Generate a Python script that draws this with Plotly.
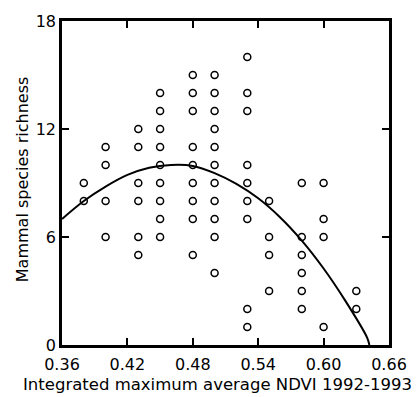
import plotly.graph_objects as go

# Scatter data: NDVI (x) and mammal species richness (y)
ndvi = [
    0.38, 0.38,
    0.40, 0.40, 0.40, 0.40,
    0.43, 0.43, 0.43, 0.43, 0.43, 0.43,
    0.45, 0.45, 0.45, 0.45, 0.45, 0.45, 0.45, 0.45, 0.45,
    0.48, 0.48, 0.48, 0.48, 0.48, 0.48, 0.48, 0.48, 0.48,
    0.50, 0.50, 0.50, 0.50, 0.50, 0.50, 0.50, 0.50, 0.50, 0.50, 0.50,
    0.53, 0.53, 0.53, 0.53, 0.53, 0.53, 0.53, 0.53, 0.53,
    0.55, 0.55, 0.55, 0.55,
    0.58, 0.58, 0.58, 0.58, 0.58, 0.58,
    0.60, 0.60, 0.60, 0.60,
    0.63, 0.63,
]
richness = [
    9, 8,
    11, 10, 8, 6,
    12, 11, 9, 8, 6, 5,
    14, 13, 12, 11, 10, 9, 8, 7, 6,
    15, 14, 13, 11, 10, 9, 8, 7, 5,
    15, 14, 13, 12, 11, 10, 9, 8, 7, 6, 4,
    16, 14, 13, 10, 9, 8, 7, 2, 1,
    8, 6, 5, 3,
    9, 6, 5, 4, 3, 2,
    9, 7, 6, 1,
    3, 2,
]

# Fitted curve
curve_x = [0.36, 0.38, 0.40, 0.42, 0.44, 0.46, 0.48, 0.50, 0.52, 0.54, 0.56, 0.58, 0.60, 0.62, 0.64, 0.642]
curve_y = [7.0, 8.0, 8.8, 9.45, 9.85, 10.0, 9.95, 9.55, 8.95, 8.15, 7.1, 5.8, 4.25, 2.45, 0.4, 0.0]

x_ticks = [0.36, 0.42, 0.48, 0.54, 0.60, 0.66]
x_tick_labels = ["0.36", "0.42", "0.48", "0.54", "0.60", "0.66"]
y_ticks = [0, 6, 12, 18]
y_tick_labels = ["0", "6", "12", "18"]

x_title = "Integrated maximum average NDVI 1992-1993"
y_title = "Mammal species richness"

FONT = "DejaVu Sans, Arial, sans-serif"

fig = go.Figure()
fig.add_trace(go.Scatter(
    x=ndvi, y=richness, mode="markers",
    marker=dict(symbol="circle-open", size=7, color="black", line=dict(width=1.5, color="black")),
    showlegend=False, cliponaxis=False,
))
fig.add_trace(go.Scatter(
    x=curve_x, y=curve_y, mode="lines", line=dict(color="black", width=2, shape="spline"),
    showlegend=False,
))

axis_common = dict(
    showline=True, linecolor="black", linewidth=2.5, mirror="ticks",
    ticks="inside", ticklen=7, tickwidth=1.5, tickcolor="black",
    showgrid=False, zeroline=False,
    tickfont=dict(family=FONT, size=16, color="black"),
)

fig.update_layout(
    width=419, height=397,
    margin=dict(l=62, r=27, t=18, b=52),
    paper_bgcolor="white", plot_bgcolor="white",
    xaxis=dict(
        range=[0.36, 0.66], tickvals=x_ticks, ticktext=x_tick_labels,
        ticklabelstandoff=3,
        **axis_common,
    ),
    yaxis=dict(
        range=[0, 18], tickvals=y_ticks, ticktext=y_tick_labels,
        **axis_common,
    ),
    annotations=[
        dict(text=x_title, xref="paper", yref="paper", x=0.477, y=-0.122,
             xanchor="center", yanchor="middle", showarrow=False,
             font=dict(family=FONT, size=16.5, color="black")),
        dict(text=y_title, xref="paper", yref="paper", x=-0.12, y=0.511,
             xanchor="center", yanchor="middle", showarrow=False, textangle=-90,
             font=dict(family=FONT, size=16, color="black")),
    ],
)

fig.write_html(
    "out.html",
    config={"displayModeBar": False},
    post_script="document.body.style.margin='0';document.body.style.overflow='hidden';",
)
